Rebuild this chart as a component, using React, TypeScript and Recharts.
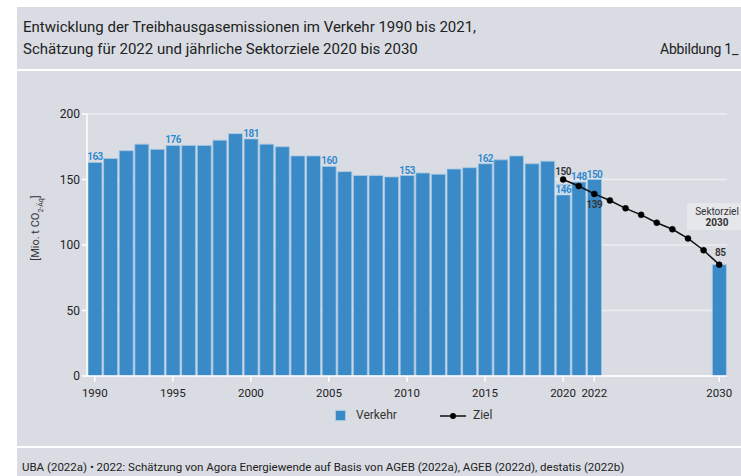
import { ComposedChart, Bar, Line, XAxis, YAxis, CartesianGrid, LabelList } from "recharts";

const years = [
  "1990", "1991", "1992", "1993", "1994", "1995", "1996", "1997", "1998", "1999",
  "2000", "2001", "2002", "2003", "2004", "2005", "2006", "2007", "2008", "2009",
  "2010", "2011", "2012", "2013", "2014", "2015", "2016", "2017", "2018", "2019",
  "2020", "2021", "2022", "2023", "2024", "2025", "2026", "2027", "2028", "2029",
  "2030",
];

// Mio. t CO2-Äq, 2022 = Schätzung, 2030 = Sektorziel
const verkehr = [
  163, 166, 172, 177, 173, 176, 176, 176, 180, 185,
  181, 177, 175, 168, 168, 160, 156, 153, 153, 152,
  153, 155, 154, 158, 159, 162, 165, 168, 162, 164,
  146, 148, 150, null, null, null, null, null, null, null,
  85,
];

const ziel = [
  null, null, null, null, null, null, null, null, null, null,
  null, null, null, null, null, null, null, null, null, null,
  null, null, null, null, null, null, null, null, null, null,
  150, 145, 139, 134, 128, 123, 117, 112, 105, 96,
  85,
];

const xTickYears = ["1990", "1995", "2000", "2005", "2010", "2015", "2020", "2022", "2030"];
const yTicks = [0, 50, 100, 150, 200];
const barLabelsAbove = ["1990", "1995", "2000", "2005", "2010", "2015", "2021", "2022"];
const barLabelsInside = ["2020"];
const zielLabels: Record<string, "above" | "below" | "aboveRight"> = {
  "2020": "above",
  "2022": "below",
  "2030": "aboveRight",
};

const data = years.map((year, i) => ({ year, verkehr: verkehr[i], ziel: ziel[i] }));

const FONT = '"Roboto", sans-serif';
const PANEL = "#d9dce2";
const BLUE = "#3a8ac7";
const LABEL_BLUE = "#2b87cf";
const DARK = "#222";

function YearTick(props: any) {
  const { x, y, payload } = props;
  if (!xTickYears.includes(payload.value)) return null;
  return (
    <g>
      <line x1={x} x2={x} y1={y} y2={y + 6} stroke="#fff" strokeWidth={1.5} />
      <text x={x} y={y + 21} textAnchor="middle" fontSize={11.5} fill={DARK} fontFamily={FONT}>
        {payload.value}
      </text>
    </g>
  );
}

function BarValueLabel(props: any) {
  const { x, y, width, value, index } = props;
  const year = years[index];
  if (value == null) return null;
  const cx = x + width / 2;
  if (barLabelsAbove.includes(year)) {
    return (
      <text x={cx} y={y - 2} textAnchor="middle" fontSize={10} fontWeight={600} letterSpacing={-0.5} fill={LABEL_BLUE} fontFamily={FONT}>
        {value}
      </text>
    );
  }
  if (barLabelsInside.includes(year)) {
    return (
      <g>
        <rect x={cx - 8} y={y + 0.5} width={16} height={10} fill="#dfe8f2" opacity={0.85} />
        <text x={cx} y={y + 8.5} textAnchor="middle" fontSize={10} fontWeight={600} letterSpacing={-0.5} fill={LABEL_BLUE} fontFamily={FONT}>
          {value}
        </text>
      </g>
    );
  }
  return null;
}

function ZielLabel(props: any) {
  const { x, y, value, index } = props;
  const pos = zielLabels[years[index]];
  if (!pos || value == null) return null;
  const dy = pos === "below" ? 14 : pos === "aboveRight" ? -8.5 : -5;
  const dx = pos === "aboveRight" ? 1 : 0;
  return (
    <text x={x + dx} y={y + dy} textAnchor="middle" fontSize={10} fontWeight={600} letterSpacing={-0.5} fill="#333" fontFamily={FONT}>
      {value}
    </text>
  );
}

export default function App() {
  return (
    <div style={{ position: "absolute", left: 0, top: 0, width: 741, height: 476, background: "#fff", overflow: "hidden", fontFamily: FONT }}>
      <div style={{ position: "absolute", left: 17, top: 7, width: 724, height: 62, background: PANEL }} />
      <div style={{ position: "absolute", left: 17, top: 71, width: 724, height: 375, background: PANEL }} />
      <div style={{ position: "absolute", left: 17, top: 448, width: 724, height: 28, background: PANEL }} />

      <div style={{ position: "absolute", left: 23, top: 16, fontSize: 15, color: DARK, lineHeight: "22px", whiteSpace: "nowrap" }}>
        Entwicklung der Treibhausgasemissionen im Verkehr 1990 bis 2021,
        <br />
        Schätzung für 2022 und jährliche Sektorziele 2020 bis 2030
      </div>
      <div style={{ position: "absolute", left: 660, top: 38, fontSize: 14, letterSpacing: -0.2, color: DARK, lineHeight: "22px", whiteSpace: "nowrap" }}>
        Abbildung 1_
      </div>

      <div
        style={{
          position: "absolute", left: 37, top: 228, transform: "translate(-50%, -50%) rotate(-90deg)",
          fontSize: 11, color: "#333", whiteSpace: "nowrap",
        }}
      >
        [Mio. t CO<sub style={{ fontSize: 7 }}>2-Äq</sub>]
      </div>

      <div style={{ position: "absolute", left: 0, top: 0 }}>
        <ComposedChart width={741} height={476} data={data} margin={{ top: 114, right: 14, bottom: 70, left: 17 }} barCategoryGap={1}>
          <CartesianGrid vertical={false} stroke="#eceef2" strokeWidth={1.5} />
          <XAxis
            dataKey="year"
            interval={0}
            height={30}
            tickLine={false}
            tickSize={0}
            tickMargin={0}
            axisLine={{ stroke: "#fff", strokeWidth: 1.5 }}
            tick={<YearTick />}
          />
          <YAxis
            width={70}
            domain={[0, 200]}
            ticks={yTicks}
            tickSize={5}
            tickLine={{ stroke: "#fff", strokeWidth: 1.5 }}
            axisLine={{ stroke: "#fff", strokeWidth: 1.5 }}
            tick={{ fill: DARK, fontSize: 12, fontFamily: FONT }}
          />
          <Bar dataKey="verkehr" fill={BLUE} stroke="#a7c8e4" strokeWidth={0.8} isAnimationActive={false}>
            <LabelList dataKey="verkehr" content={<BarValueLabel />} />
          </Bar>
          <Line
            dataKey="ziel"
            stroke="#111"
            strokeWidth={1.5}
            dot={{ r: 3, fill: "#000", stroke: "#000", strokeWidth: 0.5 }}
            activeDot={false}
            isAnimationActive={false}
          >
            <LabelList dataKey="ziel" content={<ZielLabel />} />
          </Line>
        </ComposedChart>
      </div>

      <div
        style={{
          position: "absolute", left: 687, top: 203, width: 60, height: 27, background: "#e5e7eb",
          fontSize: 10, color: "#333", textAlign: "center", lineHeight: "11px", paddingTop: 3, boxSizing: "border-box",
        }}
      >
        Sektorziel
        <br />
        <b>2030</b>
      </div>

      <div style={{ position: "absolute", left: 335, top: 410, width: 11, height: 11, background: BLUE, border: "1px solid #a7c8e4", boxSizing: "border-box" }} />
      <div style={{ position: "absolute", left: 356, top: 408, fontSize: 12, color: "#333" }}>Verkehr</div>
      <svg style={{ position: "absolute", left: 439, top: 409 }} width={30} height={14}>
        <line x1={1} x2={27} y1={7} y2={7} stroke="#111" strokeWidth={1.5} />
        <circle cx={14} cy={7} r={3} fill="#000" />
      </svg>
      <div style={{ position: "absolute", left: 473, top: 408, fontSize: 12, color: "#333" }}>Ziel</div>

      <div style={{ position: "absolute", left: 22, top: 460, fontSize: 11.5, color: DARK, whiteSpace: "nowrap" }}>
        UBA (2022a) • 2022: Schätzung von Agora Energiewende auf Basis von AGEB (2022a), AGEB (2022d), destatis (2022b)
      </div>
    </div>
  );
}
